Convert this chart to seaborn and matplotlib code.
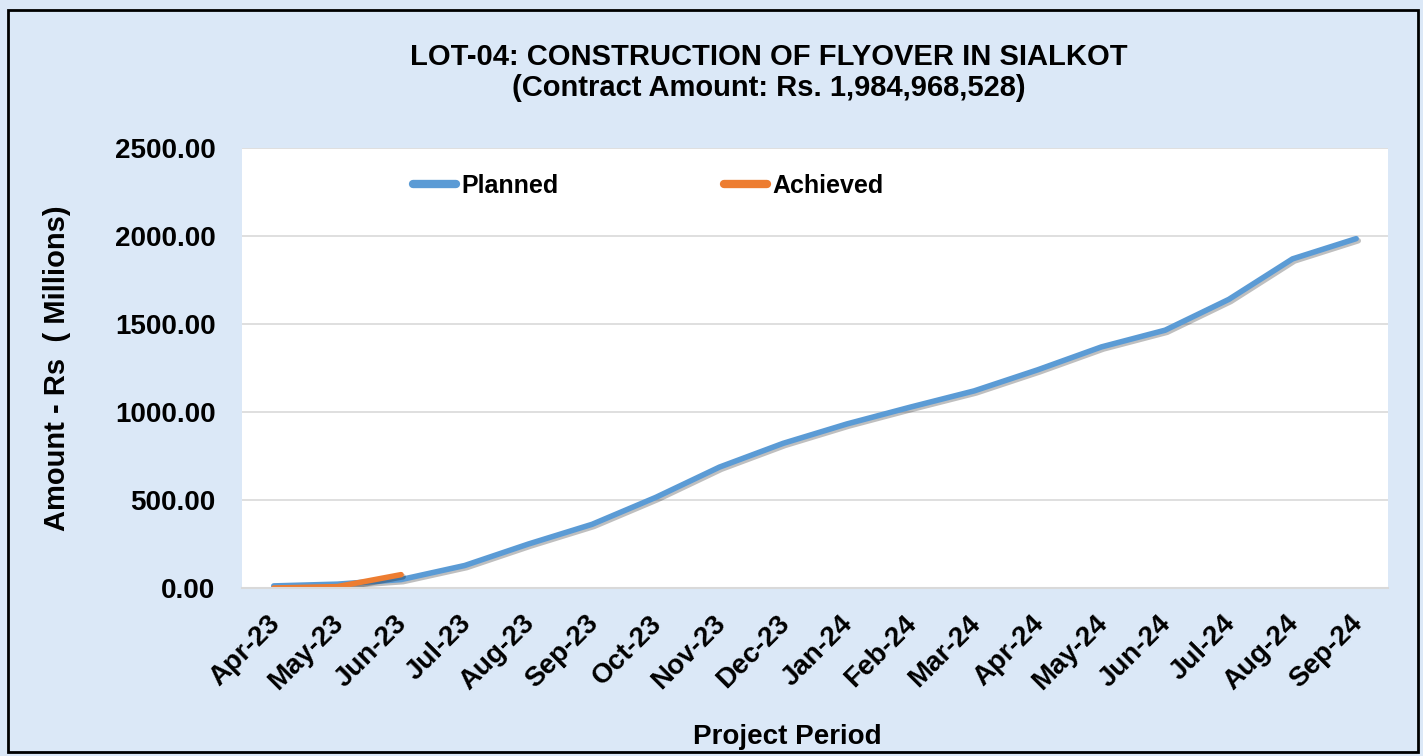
import seaborn as sns
import matplotlib.pyplot as plt
import matplotlib.patheffects as pe
from matplotlib.patches import Rectangle
from matplotlib.ticker import FormatStrFormatter
from matplotlib.transforms import ScaledTranslation
import pandas as pd

# Dados (Rs. milhões)
meses = ["Apr-23", "May-23", "Jun-23", "Jul-23", "Aug-23", "Sep-23", "Oct-23", "Nov-23", "Dec-23",
         "Jan-24", "Feb-24", "Mar-24", "Apr-24", "May-24", "Jun-24", "Jul-24", "Aug-24", "Sep-24"]
planejado = [12, 22, 48, 128, 250, 362, 515, 687, 822, 932, 1028, 1120, 1240, 1370, 1465, 1640, 1870, 1985]
realizado = [0, 8, 76]

df = pd.concat([
    pd.DataFrame({"mes": meses, "valor": planejado, "serie": "Planned"}),
    pd.DataFrame({"mes": meses[:len(realizado)], "valor": realizado, "serie": "Achieved"}),
])

sns.set_style("white")
plt.rcParams["font.family"] = ["Liberation Sans", "DejaVu Sans"]
plt.rcParams["text.color"] = "black"
plt.rcParams["axes.labelcolor"] = "black"
plt.rcParams["xtick.color"] = "black"
plt.rcParams["ytick.color"] = "black"

fig = plt.figure(figsize=(14.23, 7.56), dpi=100, facecolor="#dbe8f7")
ax = fig.add_axes([0.170, 0.2222, 0.8054, 0.582])
ax.set_facecolor("white")

sns.lineplot(data=df, x="mes", y="valor", hue="serie", hue_order=["Planned", "Achieved"],
             palette=["#5b9bd5", "#ed7d31"], linewidth=4, sort=False, ax=ax)
for ln in ax.lines:
    ln.set_solid_capstyle("round")
    ln.set_path_effects([pe.SimpleLineShadow(offset=(1.5, -1.5), alpha=0.25), pe.Normal()])

ax.set_xlim(-0.5, len(meses) - 0.5)
ax.set_ylim(0, 2500)
ax.set_yticks([0, 500, 1000, 1500, 2000, 2500])
ax.yaxis.set_major_formatter(FormatStrFormatter("%.2f"))
ax.grid(axis="y", color="#d9d9d9", linewidth=1.2)
for s in ["left", "right", "top"]:
    ax.spines[s].set_visible(False)
ax.spines["bottom"].set_color("#d9d9d9")
ax.spines["bottom"].set_linewidth(1.5)
ax.tick_params(axis="both", length=0, labelsize=20)
ax.tick_params(axis="y", pad=19)
ax.tick_params(axis="x", pad=14)
for lab in ax.get_yticklabels():
    lab.set_fontweight("bold")
desloc = ScaledTranslation(-0.07, -0.03, fig.dpi_scale_trans)
for lab in ax.get_xticklabels():
    lab.set_rotation(45)
    lab.set_ha("right")
    lab.set_rotation_mode("anchor")
    lab.set_fontweight("bold")
    lab.set_transform(lab.get_transform() + desloc)

ax.set_xlabel("Project Period", fontsize=20, fontweight="bold", va="center")
ax.xaxis.set_label_coords(0.4756, -0.3386)
ax.set_ylabel("Amount - Rs  ( Millions)", fontsize=21, fontweight="bold", va="center")
ax.yaxis.set_label_coords(-0.1614, 0.5)

leg = ax.legend(loc="center left", bbox_to_anchor=(0.149, 0.914), ncol=2, frameon=False,
                handlelength=1.75, handletextpad=0.2, columnspacing=6.6, borderpad=0, borderaxespad=0,
                prop={"weight": "bold", "size": 18})
for h in leg.get_lines():
    h.set_linewidth(6)
    h.set_solid_capstyle("round")
    h.set_path_effects([])

fig.text(0.540, 0.924, "LOT-04: CONSTRUCTION OF FLYOVER IN SIALKOT", ha="center", va="center",
         fontsize=21, fontweight="bold")
fig.text(0.540, 0.884, "(Contract Amount: Rs. 1,984,968,528)", ha="center", va="center",
         fontsize=21, fontweight="bold")

fig.patches.append(Rectangle((0.0056, 0.005), 0.9910, 0.982, transform=fig.transFigure,
                             fill=False, edgecolor="black", linewidth=2))

fig.savefig("out.png", dpi=100, facecolor=fig.get_facecolor())
